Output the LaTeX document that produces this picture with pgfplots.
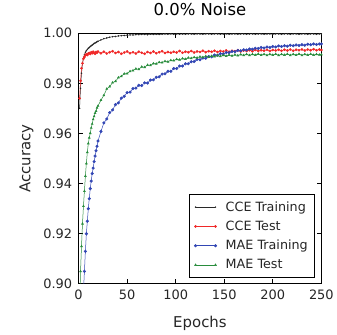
\documentclass[border=0pt]{standalone}
\usepackage{fontspec}
\setmainfont{DejaVu Sans}
\usepackage{pgfplots}
\usepackage{pgfplotstable}
\pgfplotsset{compat=1.18}
\definecolor{mred}{RGB}{240,40,40}
\definecolor{mblue}{RGB}{50,70,180}
\definecolor{mgreen}{RGB}{40,140,60}
\definecolor{mblack}{RGB}{40,40,40}
\pgfplotstableread{
e ctr cte mtr mte
1 0.9700 0.9740 0.8400 0.8900
2 0.9780 0.9810 0.8600 0.9050
3 0.9840 0.9860 0.8750 0.9150
4 0.9880 0.9880 0.8880 0.9240
5 0.9900 0.9898 0.8970 0.9310
6 0.9914 0.9905 0.9050 0.9370
7 0.9924 0.9912 0.9130 0.9430
8 0.9930 0.9916 0.9200 0.9480
9 0.9935 0.9913 0.9250 0.9525
10 0.9940 0.9919 0.9300 0.9560
11 0.9943 0.9921 0.9340 0.9583
12 0.9947 0.9917 0.9380 0.9601
13 0.9950 0.9924 0.9410 0.9622
14 0.9953 0.9920 0.9440 0.9638
15 0.9956 0.9926 0.9462 0.9656
16 0.9959 0.9921 0.9488 0.9668
17 0.9961 0.9918 0.9510 0.9681
18 0.9963 0.9925 0.9531 0.9689
19 0.9966 0.9922 0.9549 0.9702
20 0.9968 0.9927 0.9570 0.9710
23 0.9973 0.9920 0.9608 0.9733
26 0.9978 0.9926 0.9642 0.9752
29 0.9981 0.9919 0.9658 0.9778
32 0.9984 0.9924 0.9683 0.9787
35 0.9986 0.9928 0.9694 0.9803
38 0.9987 0.9921 0.9715 0.9808
41 0.9989 0.9925 0.9722 0.9823
44 0.9990 0.9918 0.9741 0.9828
47 0.9991 0.9923 0.9748 0.9838
50 0.9992 0.9927 0.9763 0.9839
53 0.9993 0.9920 0.9765 0.9848
56 0.9993 0.9924 0.9779 0.9851
59 0.9994 0.9919 0.9781 0.9858
62 0.9994 0.9926 0.9792 0.9856
65 0.9995 0.9922 0.9791 0.9866
68 0.9995 0.9918 0.9802 0.9864
71 0.9994 0.9925 0.9801 0.9873
74 0.9996 0.9921 0.9813 0.9872
77 0.9995 0.9927 0.9814 0.9879
80 0.9996 0.9920 0.9824 0.9878
83 0.9995 0.9924 0.9826 0.9884
86 0.9996 0.9928 0.9837 0.9883
89 0.9997 0.9921 0.9838 0.9888
92 0.9996 0.9925 0.9848 0.9886
95 0.9997 0.9922 0.9848 0.9892
98 0.9996 0.9926 0.9859 0.9891
101 0.9997 0.9923 0.9859 0.9896
104 0.9996 0.9929 0.9869 0.9894
107 0.9997 0.9922 0.9869 0.9899
110 0.9996 0.9926 0.9878 0.9897
113 0.9997 0.9924 0.9878 0.9902
116 0.9997 0.9929 0.9886 0.9900
119 0.9996 0.9923 0.9887 0.9904
122 0.9997 0.9927 0.9895 0.9902
125 0.9997 0.9925 0.9894 0.9906
128 0.9996 0.9930 0.9901 0.9904
131 0.9997 0.9924 0.9900 0.9908
134 0.9997 0.9928 0.9907 0.9905
137 0.9996 0.9926 0.9906 0.9909
140 0.9997 0.9930 0.9913 0.9907
143 0.9997 0.9925 0.9912 0.9911
146 0.9996 0.9929 0.9918 0.9908
149 0.9997 0.9927 0.9917 0.9912
152 0.9997 0.9931 0.9923 0.9909
155 0.9996 0.9926 0.9922 0.9913
158 0.9997 0.9930 0.9927 0.9910
161 0.9997 0.9928 0.9926 0.9914
164 0.9996 0.9932 0.9931 0.9911
167 0.9997 0.9927 0.9930 0.9915
170 0.9997 0.9931 0.9934 0.9912
173 0.9996 0.9929 0.9933 0.9916
176 0.9997 0.9932 0.9937 0.9912
179 0.9997 0.9928 0.9936 0.9916
182 0.9996 0.9933 0.9940 0.9913
185 0.9997 0.9929 0.9939 0.9917
188 0.9997 0.9932 0.9943 0.9913
191 0.9996 0.9930 0.9941 0.9916
194 0.9997 0.9934 0.9945 0.9912
197 0.9997 0.9929 0.9943 0.9916
200 0.9996 0.9933 0.9947 0.9913
203 0.9997 0.9931 0.9945 0.9917
206 0.9997 0.9934 0.9949 0.9912
209 0.9996 0.9930 0.9947 0.9916
212 0.9997 0.9934 0.9950 0.9913
215 0.9997 0.9931 0.9948 0.9917
218 0.9996 0.9935 0.9952 0.9912
221 0.9997 0.9930 0.9950 0.9916
224 0.9997 0.9934 0.9953 0.9913
227 0.9996 0.9932 0.9951 0.9917
230 0.9997 0.9935 0.9954 0.9912
233 0.9997 0.9931 0.9952 0.9916
236 0.9996 0.9935 0.9956 0.9913
239 0.9997 0.9932 0.9954 0.9917
242 0.9997 0.9936 0.9957 0.9913
245 0.9996 0.9932 0.9955 0.9916
248 0.9997 0.9935 0.9957 0.9914
250 0.9997 0.9933 0.9957 0.9915
}\data
\begin{document}
\begin{tikzpicture}
\begin{axis}[
  scale only axis,
  width=244pt, height=252pt,
  xmin=0, xmax=250, ymin=0.90, ymax=1.00,
  xtick={0,50,100,150,200,250},
  ytick={0.90,0.92,0.94,0.96,0.98,1.00},
  yticklabel style={/pgf/number format/fixed, /pgf/number format/fixed zerofill, /pgf/number format/precision=2},
  /pgf/number format/assume math mode=true,
  tick label style={font=\fontsize{13}{15}\selectfont, text=black!85},
  tick align=inside,
  major tick length=4.5pt,
  tick style={black, line width=0.8pt},
  axis line style={line width=1.1pt},
  title={0.0\% Noise},
  title style={font=\fontsize{16.5}{19}\selectfont, at={(axis description cs:0.5,1.07)}, anchor=center},
  xlabel={Epochs},
  ylabel={Accuracy},
  every axis x label/.style={at={(axis description cs:0.5,-0.159)}, anchor=center, font=\fontsize{15}{18}\selectfont, text=black!85},
  every axis y label/.style={at={(axis description cs:-0.215,0.5)}, rotate=90, anchor=center, font=\fontsize{15}{18}\selectfont, text=black!85},
  xticklabel style={yshift=-3pt},
  yticklabel style={xshift=-3pt},
  legend style={at={(0.975,0.024)}, anchor=south east, draw=black, line width=1.1pt,
    font=\fontsize{12.8}{15}\selectfont, row sep=4.3pt, inner xsep=5pt, inner ysep=5pt,
    cells={anchor=west}, text=black!85,
    /tikz/every odd column/.append style={column sep=7pt}},
  legend image code/.code={
    \draw[#1, line width=0.6pt, mark=none] (0pt,0pt) -- (20pt,0pt);
    \draw[#1, only marks] plot coordinates {(0pt,0pt) (20pt,0pt)};},
  clip=true,
]
\addplot[mblack, line width=0.5pt, mark=*, mark size=0.5pt] table[x=e, y=ctr] {\data};
\addlegendentry{CCE Training}
\addplot[mred, line width=0.5pt, mark=*, mark size=1.1pt] table[x=e, y=cte] {\data};
\addlegendentry{CCE Test}
\addplot[mblue, line width=0.5pt, mark=*, mark size=1.3pt] table[x=e, y=mtr] {\data};
\addlegendentry{MAE Training}
\addplot[mgreen, line width=0.5pt, mark=triangle*, mark size=1.1pt] table[x=e, y=mte] {\data};
\addlegendentry{MAE Test}
\end{axis}
\path (current axis.south west) -- +(-79pt,-50pt);
\path (current axis.north east) -- +(14pt,33pt);
\end{tikzpicture}
\end{document}
